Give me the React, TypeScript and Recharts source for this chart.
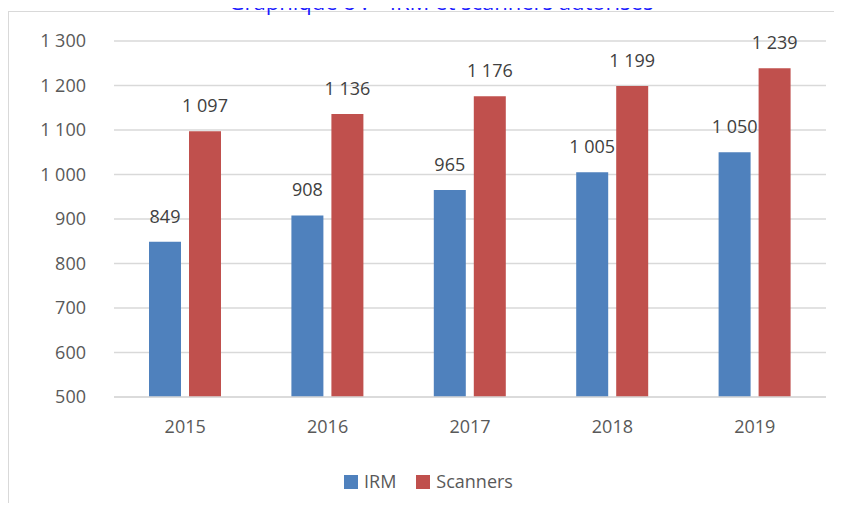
import React from "react";
import { BarChart, Bar, XAxis, YAxis, CartesianGrid, Legend, LabelList } from "recharts";

const years = ["2015", "2016", "2017", "2018", "2019"];
const irm = [849, 908, 965, 1005, 1050];
const scanners = [1097, 1136, 1176, 1199, 1239];
const yTicks = [500, 600, 700, 800, 900, 1000, 1100, 1200, 1300];

const data = years.map((y, i) => ({ year: y, IRM: irm[i], Scanners: scanners[i] }));

const fmt = (v: number) => {
  const s = String(Math.round(v));
  return s.length > 3 ? s.slice(0, s.length - 3) + "\u00a0" + s.slice(-3) : s;
};

const FONT = "'Open Sans', sans-serif";

const LegendContent = () => (
  <div style={{ display: "flex", alignItems: "center", fontFamily: FONT, fontSize: 18, lineHeight: "25px", height: 25, color: "#595959" }}>
    <span style={{ display: "inline-block", width: 14, height: 14, background: "#4f81bd", marginRight: 6 }} />
    <span style={{ marginRight: 20 }}>IRM</span>
    <span style={{ display: "inline-block", width: 14, height: 14, background: "#c0504d", marginRight: 6 }} />
    <span>Scanners</span>
  </div>
);

export default function App() {
  return (
    <div style={{ position: "relative", margin: -8, width: 842, height: 511, overflow: "hidden", background: "#fff" }}>
      <div
        style={{
          position: "absolute",
          left: 8,
          top: 11,
          width: 834,
          height: 500,
          borderTop: "1.5px solid #d9d9d9",
          borderLeft: "1.5px solid #d9d9d9",
          boxSizing: "border-box",
        }}
      />
      <div
        style={{
          position: "absolute",
          left: 0,
          width: 882,
          top: -10,
          textAlign: "center",
          fontFamily: FONT,
          fontSize: 22,
          color: "#1a1aff",
          whiteSpace: "nowrap",
          lineHeight: "22px",
        }}
      >
        Graphique 8 :  – IRM et scanners autorisés
      </div>
      <div style={{ position: "absolute", left: 0, top: 0 }}>
        <BarChart
          width={842}
          height={511}
          data={data}
          margin={{ top: 41, right: 16, bottom: 49, left: 0 }}
          barSize={32}
          barGap={8}
        >
          <CartesianGrid vertical={false} stroke="#d9d9d9" strokeWidth={1.5} />
          <XAxis
            dataKey="year"
            tickLine={false}
            axisLine={{ stroke: "#d9d9d9", strokeWidth: 1.5 }}
            tickSize={0}
            tickMargin={23}
            height={40}
            tick={{ fill: "#595959", fontSize: 18, fontFamily: FONT }}
          />
          <YAxis
            domain={[500, 1300]}
            ticks={yTicks}
            interval={0}
            width={114}
            tickLine={false}
            axisLine={false}
            tickSize={0}
            tickMargin={28}
            tickFormatter={fmt}
            tick={{ fill: "#595959", fontSize: 18, fontFamily: FONT }}
          />
          <Legend
            content={<LegendContent />}
            wrapperStyle={{ position: "absolute", left: 344, top: 469, width: "auto" }}
          />
          <Bar dataKey="IRM" fill="#4f81bd" isAnimationActive={false}>
            <LabelList
              dataKey="IRM"
              position="top"
              offset={19}
              formatter={(v: any) => fmt(Number(v))}
              style={{ fill: "#404040", fontSize: 18, fontFamily: FONT }}
            />
          </Bar>
          <Bar dataKey="Scanners" fill="#c0504d" isAnimationActive={false}>
            <LabelList
              dataKey="Scanners"
              position="top"
              offset={19}
              formatter={(v: any) => fmt(Number(v))}
              style={{ fill: "#404040", fontSize: 18, fontFamily: FONT }}
            />
          </Bar>
        </BarChart>
      </div>
    </div>
  );
}
